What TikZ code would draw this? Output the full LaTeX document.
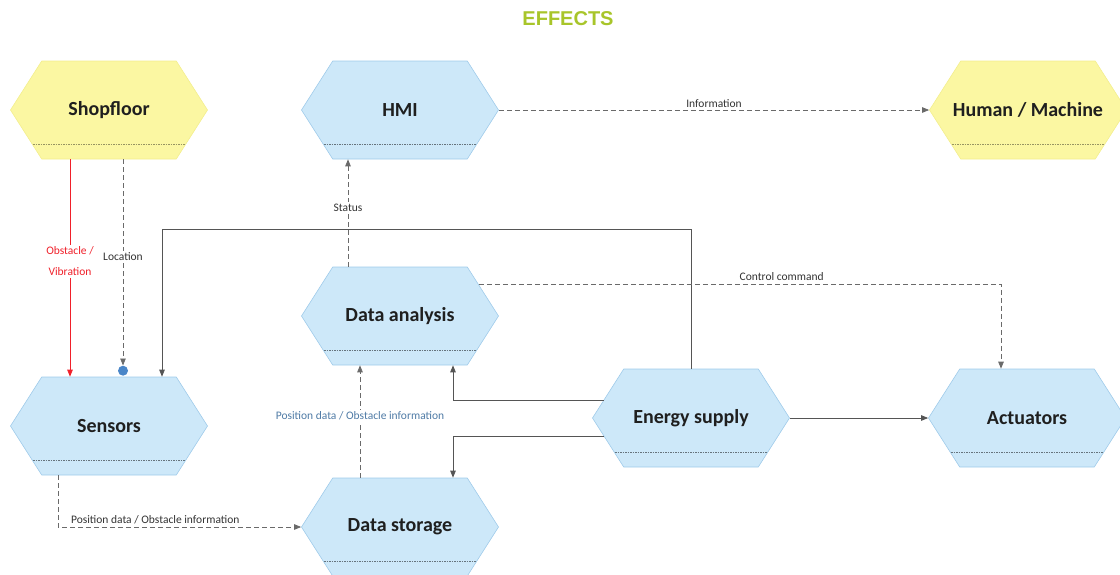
\documentclass[tikz,border=0pt]{standalone}
\usepackage{fontspec}
\setmainfont{Carlito}
\newfontfamily\arialfont{Liberation Sans}
\usetikzlibrary{shapes.symbols,arrows.meta,calc}
\definecolor{hexblue}{HTML}{CDE8F9}
\definecolor{hexblueline}{HTML}{9FCBEA}
\definecolor{hexyellow}{HTML}{FBF7A2}
\definecolor{hexyellowline}{HTML}{F3EE8E}
\definecolor{effgreen}{HTML}{A8C52A}
\definecolor{conngray}{HTML}{555555}
\definecolor{dashgray}{HTML}{6A6A6A}
\definecolor{lblblue}{HTML}{4F7BA6}
\definecolor{dotblue}{HTML}{4A86C8}
\definecolor{obsred}{HTML}{F0202A}
\begin{document}
\begin{tikzpicture}[x=1pt,y=-1pt,
  hexbase/.style={shape=signal, signal to=east and west, signal pointer angle=115,
    minimum width=197pt, minimum height=98pt, inner sep=0pt, line width=0.6pt,
    font=\fontsize{20}{24}\selectfont\bfseries, text=black!88},
  hexb/.style={hexbase, draw=hexblueline, fill=hexblue,
    path picture={\draw[dash pattern=on 1.5pt off 1pt, line width=0.5pt, color=black!50!hexblue]
      ([yshift=15pt]path picture bounding box.south west) -- ([yshift=15pt]path picture bounding box.south east);}},
  hexy/.style={hexbase, draw=hexyellowline, fill=hexyellow,
    path picture={\draw[dash pattern=on 1.5pt off 1pt, line width=0.5pt, color=black!40!hexyellow]
      ([yshift=15pt]path picture bounding box.south west) -- ([yshift=15pt]path picture bounding box.south east);}},
  tip/.style={-{Triangle[length=7pt,width=5.5pt]}},
  solidconn/.style={tip, draw=conngray, line width=0.8pt},
  dashconn/.style={tip, draw=dashgray, line width=0.8pt, dash pattern=on 5pt off 3pt},
  lbl/.style={font=\fontsize{11.5}{13}\selectfont, text=black!80, fill=white, inner sep=1.5pt}
]
\useasboundingbox (0,0) rectangle (1120,574);

\node[font=\arialfont\bfseries\fontsize{20}{24}\selectfont, text=effgreen] (title) at (568,19) {EFFECTS};

\node[hexy] (shop) at (109,110) {Shopfloor};
\node[hexb] (hmi) at (400,110) {HMI};
\node[hexy] (hm) at (1028,110) {\makebox[0pt]{Human / Machine}};
\node[hexb] (da) at (400,316) {Data analysis};
\node[hexb] (sens) at (109,426) {Sensors};
\node[hexb] (es) at (691,418) {Energy supply};
\node[hexb] (act) at (1027,418) {Actuators};
\node[hexb] (ds) at (400,527) {Data storage};

\node[circle, fill=dotblue, minimum size=10pt, inner sep=0pt] (dot) at ([xshift=14pt,yshift=6pt]sens.north) {};

% Shopfloor -> Sensors (red)
\draw[tip, draw=obsred, line width=0.8pt] ([xshift=-39pt]shop.south) -- ([xshift=-39pt]sens.north)
  node[pos=0.47, fill=white, text=obsred, font=\fontsize{11.5}{21}\selectfont, align=center, inner sep=1.5pt] (lblobs) {Obstacle /\\Vibration};
% Shopfloor -> Sensors (location)
\draw[dashconn] ([xshift=14pt]shop.south) -- (dot.north)
  node[pos=0.47, lbl] (lblloc) {Location};
% Energy supply -> Sensors
\draw[solidconn] (es.north) -- (es.north |- 0,229) -| ([xshift=53pt]sens.north);
% Data analysis -> HMI
\draw[dashconn] ([xshift=-52pt]da.north) -- ([xshift=-52pt]hmi.south)
  node[pos=0.55, lbl] (lblstatus) {Status};
% HMI -> Human / Machine
\draw[dashconn] (hmi.east) -- (hm.west)
  node[midway, lbl, yshift=6pt] (lblinfo) {Information};
% Data analysis -> Actuators
\draw[dashconn] ([xshift=-20pt,yshift=32pt]da.east) -| ([xshift=-26pt]act.north)
  node[pos=0.29, lbl, yshift=7pt] (lblctrl) {Control command};
% Energy supply -> Data analysis
\draw[solidconn] ([xshift=11.4pt,yshift=18pt]es.west) -| ([xshift=53pt]da.south);
% Energy supply -> Data storage
\draw[solidconn] ([xshift=11.4pt,yshift=-18pt]es.west) -| ([xshift=53pt]ds.north);
% Energy supply -> Actuators
\draw[solidconn] (es.east) -- (act.west);
% Data storage -> Data analysis
\draw[dashconn] ([xshift=-40pt]ds.north) -- ([xshift=-40pt]da.south)
  node[pos=0.55, lbl, text=lblblue] (lblpos1) {Position data / Obstacle information};
% Sensors -> Data storage
\draw[dashconn] ([xshift=-51pt]sens.south) |- (ds.west)
  node[pos=0.70, lbl, yshift=7pt] (lblpos2) {Position data / Obstacle information};
\end{tikzpicture}
\end{document}
